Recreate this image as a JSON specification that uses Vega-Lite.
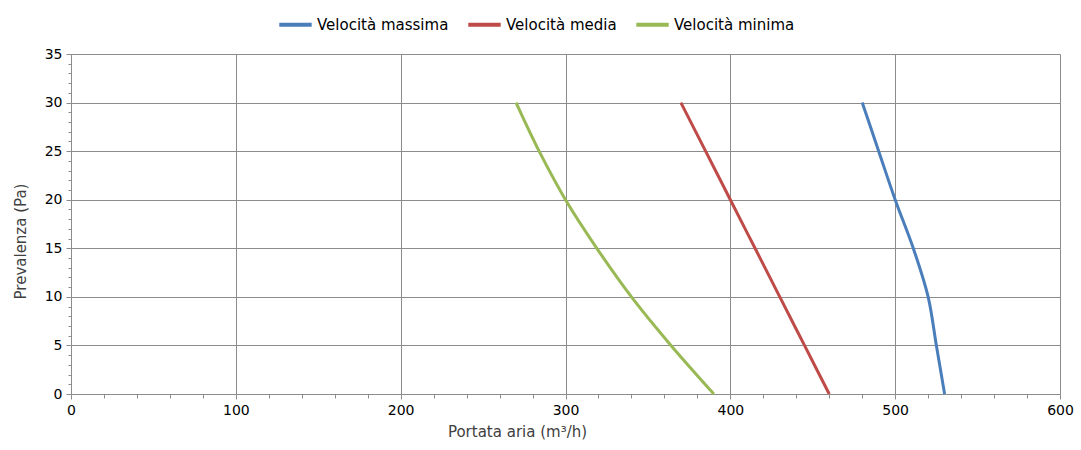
{
  "$schema": "https://vega.github.io/schema/vega-lite/v6.json",
  "width": 989,
  "height": 340,
  "autosize": {"type": "none"},
  "padding": {"left": 71, "top": 54, "right": 21, "bottom": 56},
  "background": "white",
  "config": {
    "view": {"stroke": null},
    "font": "DejaVu Sans"
  },
  "data": {
    "values": [
      {"serie": "Velocità massima", "portata": 530, "prevalenza": 0},
      {"serie": "Velocità massima", "portata": 525, "prevalenza": 5},
      {"serie": "Velocità massima", "portata": 520, "prevalenza": 10},
      {"serie": "Velocità massima", "portata": 511, "prevalenza": 15},
      {"serie": "Velocità massima", "portata": 500, "prevalenza": 20},
      {"serie": "Velocità massima", "portata": 490, "prevalenza": 25},
      {"serie": "Velocità massima", "portata": 480, "prevalenza": 30},
      {"serie": "Velocità media", "portata": 460, "prevalenza": 0},
      {"serie": "Velocità media", "portata": 445, "prevalenza": 5},
      {"serie": "Velocità media", "portata": 430, "prevalenza": 10},
      {"serie": "Velocità media", "portata": 415, "prevalenza": 15},
      {"serie": "Velocità media", "portata": 400, "prevalenza": 20},
      {"serie": "Velocità media", "portata": 385, "prevalenza": 25},
      {"serie": "Velocità media", "portata": 370, "prevalenza": 30},
      {"serie": "Velocità minima", "portata": 390, "prevalenza": 0},
      {"serie": "Velocità minima", "portata": 364, "prevalenza": 5},
      {"serie": "Velocità minima", "portata": 340, "prevalenza": 10},
      {"serie": "Velocità minima", "portata": 319, "prevalenza": 15},
      {"serie": "Velocità minima", "portata": 300, "prevalenza": 20},
      {"serie": "Velocità minima", "portata": 284, "prevalenza": 25},
      {"serie": "Velocità minima", "portata": 270, "prevalenza": 30}
    ]
  },
  "mark": {"type": "line", "strokeWidth": 3, "interpolate": "catmull-rom"},
  "encoding": {
    "x": {
      "field": "portata",
      "type": "quantitative",
      "scale": {"domain": [0, 600], "nice": false},
      "axis": {
        "title": "Portata aria (m³/h)",
        "values": [0,20,40,60,80,100,120,140,160,180,200,220,240,260,280,300,320,340,360,380,400,420,440,460,480,500,520,540,560,580,600],
        "labelExpr": "datum.value % 100 === 0 ? datum.label : ''",
        "gridColor": "#8c8c8c",
        "gridOpacity": {"condition": {"test": "datum.value % 100 === 0", "value": 1}, "value": 0},
        "gridWidth": 1,
        "domainColor": "#8c8c8c",
        "tickColor": "#8c8c8c",
        "tickSize": {"condition": {"test": "datum.value % 100 === 0", "value": 5}, "value": 4},
        "labelFontSize": 14,
        "labelColor": "#000000",
        "labelPadding": 4,
        "titleFontSize": 15,
        "titleFontWeight": "normal",
        "titleColor": "#404040",
        "titleX": 446,
        "titleAlign": "center",
        "titlePadding": 7,
        "labelFlush": false
      }
    },
    "y": {
      "field": "prevalenza",
      "type": "quantitative",
      "scale": {"domain": [0, 35], "nice": false},
      "axis": {
        "title": "Prevalenza (Pa)",
        "values": [0,1,2,3,4,5,6,7,8,9,10,11,12,13,14,15,16,17,18,19,20,21,22,23,24,25,26,27,28,29,30,31,32,33,34,35],
        "labelExpr": "datum.value % 5 === 0 ? datum.label : ''",
        "gridColor": "#8c8c8c",
        "gridOpacity": {"condition": {"test": "datum.value % 5 === 0", "value": 1}, "value": 0},
        "gridWidth": 1,
        "domainColor": "#8c8c8c",
        "tickColor": "#8c8c8c",
        "tickSize": {"condition": {"test": "datum.value % 5 === 0", "value": 5}, "value": 3},
        "labelFontSize": 14,
        "labelColor": "#000000",
        "labelPadding": 4,
        "titleFontSize": 15,
        "titleFontWeight": "normal",
        "titleColor": "#404040",
        "titleY": 187,
        "titleAlign": "center",
        "titlePadding": 16,
        "labelFlush": false
      }
    },
    "color": {
      "field": "serie",
      "type": "nominal",
      "scale": {
        "domain": ["Velocità massima", "Velocità media", "Velocità minima"],
        "range": ["#4a7ebb", "#be4b48", "#98b954"]
      },
      "legend": {
        "title": null,
        "orient": "none",
        "direction": "horizontal",
        "legendX": 206,
        "legendY": -48,
        "symbolType": "stroke",
        "symbolSize": 1050,
        "symbolStrokeWidth": 4,
        "labelFontSize": 15,
        "labelColor": "#000000",
        "labelOffset": 3,
        "columnPadding": 11,
        "labelLimit": 300
      }
    },
    "order": {"field": "prevalenza", "type": "quantitative"}
  }
}
